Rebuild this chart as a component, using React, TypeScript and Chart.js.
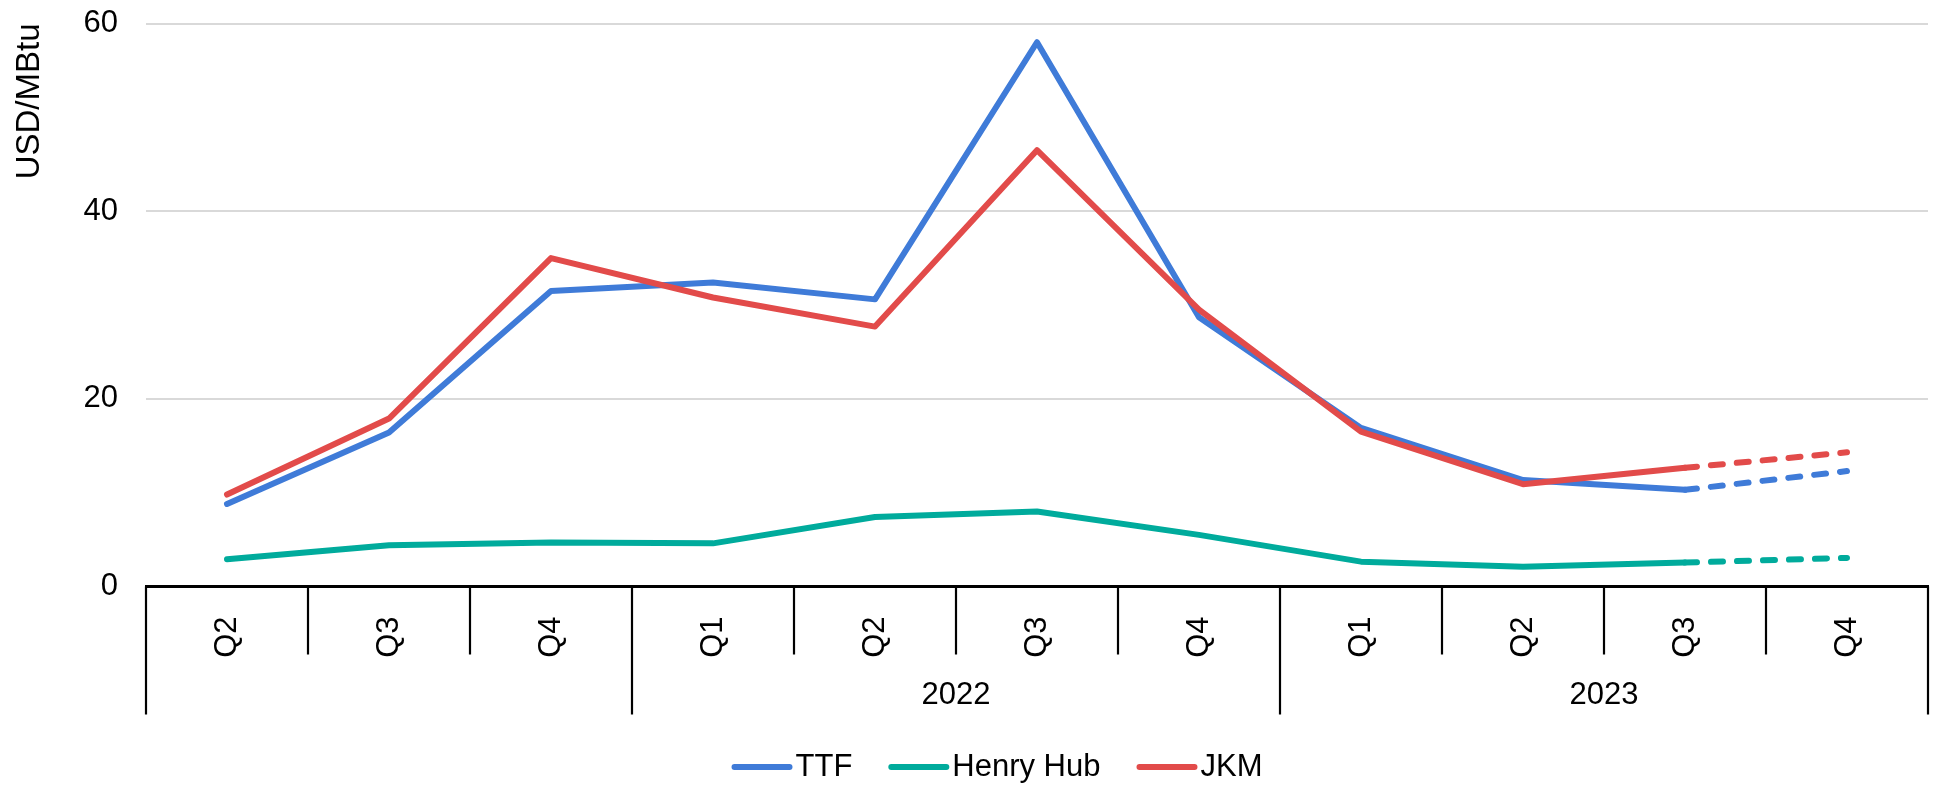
import React, { useEffect, useRef } from 'react';
import { Chart, registerables } from 'chart.js';

Chart.register(...registerables);

// ---- Data ----
const quarterLabels = ['Q2', 'Q3', 'Q4', 'Q1', 'Q2', 'Q3', 'Q4', 'Q1', 'Q2', 'Q3', 'Q4'];
const yearLabels = ['', '2022', '2023'];
const yearGroupSizes = [3, 4, 4];

const ttf = [8.8, 16.4, 31.5, 32.4, 30.6, 58.0, 28.7, 16.9, 11.35, 10.3, 12.3];
const henryHub = [2.9, 4.4, 4.7, 4.6, 7.4, 8.0, 5.5, 2.65, 2.1, 2.55, 3.05];
const jkm = [9.8, 17.9, 35.0, 30.8, 27.7, 46.5, 29.5, 16.5, 10.9, 12.65, 14.3];

const forecastFrom = 9; // segments after this index are projections (dashed)
const yTicks = [0, 20, 40, 60];

const seriesNames = ['TTF', 'Henry Hub', 'JKM'];
const seriesColors = ['#3f7bd8', '#00ab9c', '#e24b4a'];
const yTitle = 'USD/MBtu';

const FONT = '"Liberation Sans", Arial, Helvetica, sans-serif';

const xDecorPlugin = {
  id: 'xDecor',
  afterDraw(chart: any) {
    const { ctx, chartArea } = chart;
    const x = chart.scales.x;
    const n = quarterLabels.length;
    const half = (x.getPixelForValue(1) - x.getPixelForValue(0)) / 2;
    const bottom = chartArea.bottom;

    // group boundary indices
    const boundaries: number[] = [0];
    let acc = 0;
    yearGroupSizes.forEach((s) => {
      acc += s;
      boundaries.push(acc);
    });

    ctx.save();
    ctx.strokeStyle = '#000';
    ctx.lineWidth = 2.2;
    for (let i = 0; i <= n; i++) {
      const px = i < n ? x.getPixelForValue(i) - half : x.getPixelForValue(n - 1) + half;
      const len = boundaries.includes(i) ? 128 : 68;
      ctx.beginPath();
      ctx.moveTo(px, bottom);
      ctx.lineTo(px, bottom + len);
      ctx.stroke();
    }

    // year labels
    ctx.font = `31px ${FONT}`;
    ctx.fillStyle = '#000';
    ctx.textAlign = 'center';
    ctx.textBaseline = 'middle';
    let start = 0;
    yearGroupSizes.forEach((size, g) => {
      const end = start + size - 1;
      const cx = (x.getPixelForValue(start) + x.getPixelForValue(end)) / 2;
      if (yearLabels[g]) ctx.fillText(yearLabels[g], cx, bottom + 109);
      start += size;
    });

    // legend
    const lineLen = 61;
    const textGap = 3;
    const itemGap = 36;
    ctx.textAlign = 'left';
    const widths = seriesNames.map((s) => lineLen + textGap + ctx.measureText(s).width);
    const total = widths.reduce((a, b) => a + b, 0) + itemGap * (seriesNames.length - 1);
    const centerX = chart.width / 2 + 29;
    const ly = chart.height - 18;
    let lx = centerX - total / 2;
    seriesNames.forEach((name, i) => {
      ctx.strokeStyle = seriesColors[i];
      ctx.lineWidth = 6;
      ctx.lineCap = 'round';
      ctx.beginPath();
      ctx.moveTo(lx + 3, ly);
      ctx.lineTo(lx + lineLen - 3, ly);
      ctx.stroke();
      ctx.fillStyle = '#000';
      ctx.fillText(name, lx + lineLen + textGap, ly);
      lx += widths[i] + itemGap;
    });
    ctx.restore();
  },
};

export default function App() {
  const canvasRef = useRef<HTMLCanvasElement | null>(null);

  useEffect(() => {
    if (!canvasRef.current) return;
    const seriesData = [ttf, henryHub, jkm];
    const orders = [1, 2, 0];
    const chart = new Chart(canvasRef.current, {
      type: 'line',
      data: {
        labels: quarterLabels,
        datasets: seriesNames.map((name, i) => ({
          label: name,
          data: seriesData[i],
          borderColor: seriesColors[i],
          backgroundColor: seriesColors[i],
          borderWidth: 6,
          pointRadius: 0,
          pointHoverRadius: 0,
          tension: 0,
          fill: false,
          order: orders[i],
          borderCapStyle: 'round',
          borderJoinStyle: 'round',
          segment: {
            borderDash: (c: any) => (c.p0DataIndex >= forecastFrom ? [12, 14] : undefined),
          },
        })),
      },
      options: {
        responsive: false,
        animation: false,
        layout: { padding: { top: 23.5, right: 8, bottom: 70.5, left: 0 } },
        plugins: {
          legend: { display: false },
          tooltip: { enabled: false },
        },
        scales: {
          x: {
            type: 'category',
            offset: true,
            grid: { display: false },
            border: { display: true, color: '#000', width: 3 },
            ticks: {
              autoSkip: false,
              minRotation: 90,
              maxRotation: 90,
              padding: 22,
              color: '#000',
              font: { family: FONT, size: 31 },
            },
            afterFit: (scale: any) => {
              scale.height = 128;
            },
          },
          y: {
            min: 0,
            max: 60,
            afterBuildTicks: (scale: any) => {
              scale.ticks = yTicks.map((v) => ({ value: v }));
            },
            grid: { color: '#d9d9d9', lineWidth: 2, drawTicks: false },
            border: { display: false },
            ticks: {
              padding: 28,
              color: '#000',
              font: { family: FONT, size: 31 },
            },
            title: {
              display: true,
              text: yTitle,
              align: 'end',
              color: '#000',
              font: { family: FONT, size: 33 },
              padding: { top: 10, bottom: 0 },
            },
            afterFit: (scale: any) => {
              scale.width = 146;
              scale.paddingTop = 0;
              scale.paddingBottom = 0;
            },
          },
        },
      },
      plugins: [xDecorPlugin],
    } as any);
    return () => chart.destroy();
  }, []);

  return (
    <div style={{ position: 'absolute', left: 0, top: 0, width: 1936, height: 785, background: '#fff' }}>
      <canvas ref={canvasRef} width={1936} height={785} style={{ display: 'block' }} />
    </div>
  );
}
